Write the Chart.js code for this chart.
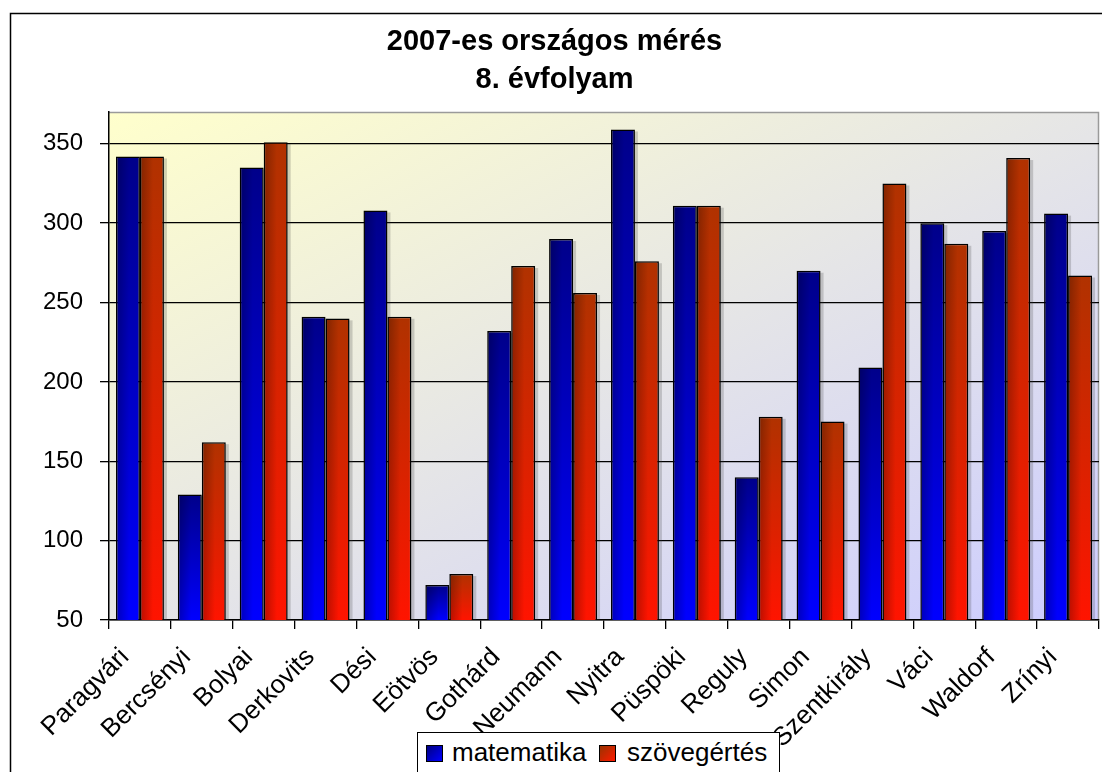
<!DOCTYPE html>
<html>
<head>
<meta charset="utf-8">
<script src="https://cdn.jsdelivr.net/npm/chart.js@4.4.1/dist/chart.umd.min.js"></script>
<style>
  html, body { margin: 0; padding: 0; background: #fff; overflow: hidden; }
  #wrap { position: relative; width: 1110px; height: 800px; }
  #c { position: absolute; left: 0; top: 0; }
  #legend {
    position: absolute; left: 417px; top: 732px; width: 361px; height: 70px;
    border: 1.5px solid #000; background: #fff;
    font-family: "Liberation Sans", Arial, sans-serif; font-size: 26px; color: #000;
  }
  .sw { position: absolute; top: 12px; width: 15px; height: 15px; border: 1.5px solid #000; }
  .lt { position: absolute; top: 4px; line-height: 30px; white-space: nowrap; }
</style>
</head>
<body>
<div id="wrap">
  <canvas id="c" width="1110" height="800"></canvas>
  <div id="legend">
    <div class="sw" style="left:8px;background:linear-gradient(135deg,#000080,#0000ff);"></div>
    <div class="lt" style="left:34px;">matematika</div>
    <div class="sw" style="left:181px;background:linear-gradient(135deg,#993300,#ff1a00);"></div>
    <div class="lt" style="left:209px;">szövegértés</div>
  </div>
</div>
<script>
const categories = ['Paragvári','Bercsényi','Bolyai','Derkovits','Dési','Eötvös','Gothárd','Neumann','Nyitra','Püspöki','Reguly','Simon','Szentkirály','Váci','Waldorf','Zrínyi'];
const matematika = [342,129,335,241,308,72,232,290,359,311,140,270,209,300,295,306];
const szovegertes = [342,162,351,240,241,79,273,256,276,311,178,175,325,287,341,267];
const yTickValues = [50,100,150,200,250,300,350];
const yMin = 50;
const yMax = 370;

const FONT = '"Liberation Sans", Arial, sans-serif';

function barGradient(context, topColor, bottomColor) {
  const chart = context.chart;
  const ys = chart.scales.y;
  if (!ys || !chart.chartArea || typeof context.raw !== 'number') return bottomColor;
  const yTop = ys.getPixelForValue(context.raw);
  const yBot = ys.getPixelForValue(ys.min);
  if (!isFinite(yTop) || !isFinite(yBot) || yBot - yTop < 1) return bottomColor;
  const g = chart.ctx.createLinearGradient(0, yTop, 0, yBot);
  g.addColorStop(0, topColor);
  g.addColorStop(1, bottomColor);
  return g;
}

const decor = {
  id: 'decor',
  beforeDraw(chart) {
    const c = chart.ctx;
    const a = chart.chartArea;
    c.save();
    c.fillStyle = '#fff';
    c.fillRect(0, 0, chart.width, chart.height);
    const W = a.right - a.left, H = a.bottom - a.top;
    const cx = (a.left + a.right) / 2, cy = (a.top + a.bottom) / 2;
    const k = W * H / (H * H + W * W);
    const g = c.createLinearGradient(cx - H * k, cy - W * k, cx + H * k, cy + W * k);
    g.addColorStop(0, '#ffffcc');
    g.addColorStop(0.5, '#e6e6e6');
    g.addColorStop(1, '#ccccff');
    c.fillStyle = g;
    c.fillRect(a.left, a.top, W, H);
    c.strokeStyle = '#9a9a9a';
    c.lineWidth = 1.5;
    c.beginPath();
    c.moveTo(a.left, a.top + 0.5);
    c.lineTo(a.right - 0.5, a.top + 0.5);
    c.lineTo(a.right - 0.5, a.bottom);
    c.stroke();
    c.strokeStyle = '#000';
    c.lineWidth = 1.5;
    c.strokeRect(10.5, 13.5, chart.width - 15, chart.height - 5);
    c.restore();
  },
  beforeDatasetsDraw(chart) {
    const c = chart.ctx;
    const a = chart.chartArea;
    c.save();
    c.beginPath();
    c.rect(a.left, a.top, a.right - a.left, a.bottom - a.top);
    c.clip();
    c.fillStyle = 'rgba(60,60,60,0.22)';
    chart.data.datasets.forEach((ds, di) => {
      const meta = chart.getDatasetMeta(di);
      meta.data.forEach(el => {
        const p = el.getProps(['x', 'y', 'base', 'width'], true);
        c.fillRect(p.x - p.width / 2 + 2, p.y + 2, p.width + 1, p.base - p.y);
      });
    });
    c.restore();
  },
  afterDatasetsDraw(chart) {
    const c = chart.ctx;
    const a = chart.chartArea;
    c.save();
    c.beginPath();
    c.rect(a.left, a.top, a.right - a.left, a.bottom - a.top);
    c.clip();
    chart.data.datasets.forEach((ds, di) => {
      const meta = chart.getDatasetMeta(di);
      meta.data.forEach(el => {
        const p = el.getProps(['x', 'y', 'base', 'width'], true);
        const left = p.x - p.width / 2;
        const h = p.base - p.y;
        if (h < 2) return;
        const g = c.createLinearGradient(left, 0, left + p.width * 0.55, 0);
        g.addColorStop(0, 'rgba(0,0,0,0.28)');
        g.addColorStop(1, 'rgba(0,0,0,0)');
        c.fillStyle = g;
        c.fillRect(left + 1, p.y + 1, p.width * 0.55, h - 1);
      });
    });
    c.restore();
  }
};

new Chart(document.getElementById('c'), {
  type: 'bar',
  data: {
    labels: categories,
    datasets: [
      {
        label: 'matematika',
        data: matematika,
        backgroundColor: ctx => barGradient(ctx, '#00008a', '#0000ff'),
        borderColor: '#000',
        borderWidth: 1.5,
        categoryPercentage: 0.775,
        barPercentage: 1.0
      },
      {
        label: 'szövegértés',
        data: szovegertes,
        backgroundColor: ctx => barGradient(ctx, '#b03200', '#ff1400'),
        borderColor: '#000',
        borderWidth: 1.5,
        categoryPercentage: 0.775,
        barPercentage: 1.0
      }
    ]
  },
  options: {
    responsive: false,
    animation: false,
    devicePixelRatio: 1,
    layout: { padding: { left: 10, right: 11, top: 0, bottom: 0 } },
    plugins: {
      legend: { display: false },
      tooltip: { enabled: false },
      title: {
        display: true,
        text: ['2007-es országos mérés', '8. évfolyam'],
        color: '#000',
        font: { family: FONT, size: 29, weight: 'bold', lineHeight: 1.3 },
        padding: { top: 23, bottom: 13.6 }
      }
    },
    scales: {
      x: {
        grid: { drawOnChartArea: false, drawTicks: true, tickLength: 9, color: '#000', lineWidth: 1.3, offset: true },
        border: { color: '#000', width: 1.5 },
        ticks: {
          color: '#000', font: { family: FONT, size: 26 },
          minRotation: 45, maxRotation: 45, autoSkip: false, padding: 13, labelOffset: -15
        },
        afterFit: s => { s.height = 180; }
      },
      y: {
        min: yMin,
        max: yMax,
        grid: { color: '#000', lineWidth: 1.3, tickLength: 9 },
        border: { color: '#000', width: 1.5 },
        ticks: { color: '#000', font: { family: FONT, size: 24 }, padding: 17 },
        afterBuildTicks: s => { s.ticks = yTickValues.map(v => ({ value: v })); },
        afterFit: s => { s.width = 99; }
      }
    }
  },
  plugins: [decor]
});
</script>
</body>
</html>
